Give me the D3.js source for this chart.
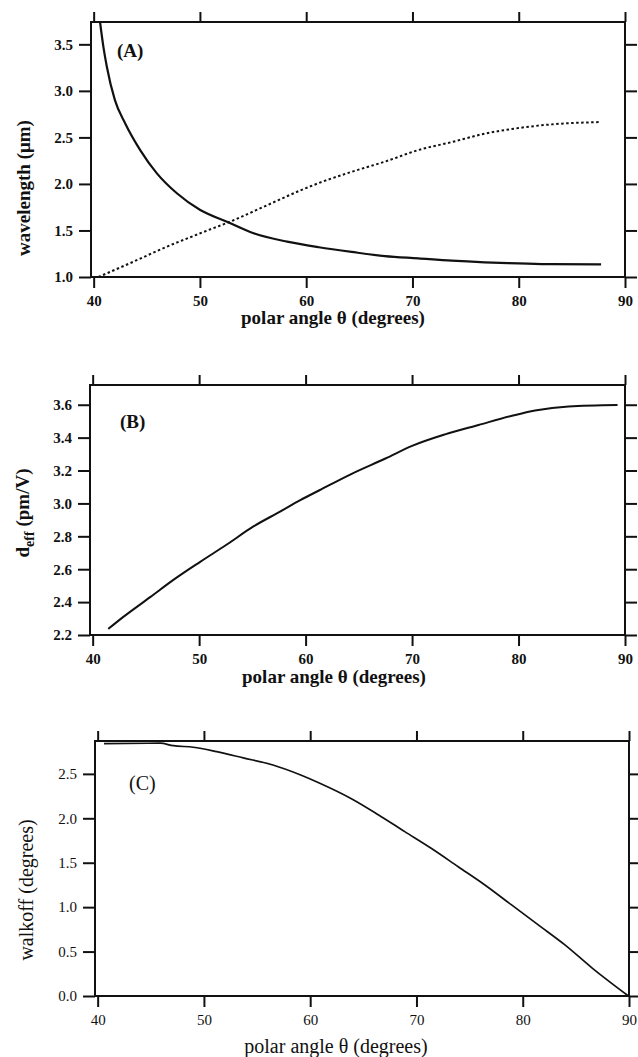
<!DOCTYPE html>
<html lang="en">
<head>
<meta charset="utf-8">
<script src="https://d3js.org/d3.v7.min.js"></script>
<style>
  body { margin: 0; background: #fff; }
  svg { display: block; }
  text { font-family: "Liberation Serif", "Times New Roman", serif; fill: #111; }
</style>
</head>
<body>
<svg width="638" height="1057"></svg>
<script>
// panel A: wavelengths vs polar angle
var angleA1 = [40.6, 40.92, 41.24, 42.0, 42.97, 44.38, 45.95, 47.83, 50.03, 52.54, 55.05, 58.2, 61.2, 64.27, 67.4, 70.55, 73.7, 76.8, 79.97, 83.1, 87.75];
var waveA1  = [3.74, 3.47, 3.26, 2.90, 2.65, 2.364, 2.114, 1.90, 1.72, 1.594, 1.47, 1.38, 1.32, 1.27, 1.225, 1.20, 1.175, 1.158, 1.147, 1.138, 1.136];
var angleA2 = [40.45, 43.75, 46.9, 50.03, 53.16, 56.3, 59.44, 61.2, 64.27, 67.42, 70.55, 73.7, 76.8, 79.97, 83.1, 87.75];
var waveA2  = [1.0, 1.165, 1.326, 1.47, 1.61, 1.77, 1.93, 2.01, 2.13, 2.24, 2.364, 2.45, 2.54, 2.60, 2.64, 2.665];
// panel B: d_eff
var angleB = [41.47, 42.88, 45.4, 47.58, 50.1, 52.6, 55.1, 57.6, 59.5, 61.3, 64.33, 67.5, 70.0, 73.1, 76.25, 79.4, 81.55, 84.7, 89.3];
var deffB  = [2.237, 2.31, 2.43, 2.535, 2.645, 2.75, 2.86, 2.95, 3.02, 3.08, 3.18, 3.273, 3.35, 3.42, 3.477, 3.533, 3.565, 3.59, 3.598];
// panel C: walkoff
var angleC = [40.6, 45.88, 47.12, 49.0, 51.2, 53.7, 56.5, 59.05, 60.8, 63.88, 66.4, 68.9, 71.42, 73.93, 76.44, 78.95, 81.46, 83.97, 86.48, 89.95];
var walkC  = [2.84, 2.845, 2.817, 2.80, 2.75, 2.68, 2.60, 2.49, 2.40, 2.22, 2.04, 1.85, 1.66, 1.455, 1.25, 1.025, 0.80, 0.575, 0.32, 0.0];

var xTicks  = [40, 50, 60, 70, 80, 90];
var yTicksA = [1.0, 1.5, 2.0, 2.5, 3.0, 3.5];
var yTicksB = [2.2, 2.4, 2.6, 2.8, 3.0, 3.2, 3.4, 3.6];
var yTicksC = [0.0, 0.5, 1.0, 1.5, 2.0, 2.5];

var svg = d3.select("svg");
var serif = '"Liberation Serif", "Times New Roman", serif';

function panel(p) {
  var g = svg.append("g").attr("transform", "translate(" + p.left + "," + p.top + ")");
  var x = d3.scaleLinear().domain([39.75, 90]).range([0, p.w]);
  var y = d3.scaleLinear().domain(p.yDomain).range([p.h, 0]);
  var fmt = d3.format(".1f");
  var big = p.weight == "bold" ? 19 : 20;

  var axes = [
    g.append("g").attr("transform", "translate(0," + p.h + ")")
      .call(d3.axisBottom(x).tickValues(xTicks).tickSize(11).tickPadding(7).tickSizeOuter(0)),
    g.append("g")
      .call(d3.axisTop(x).tickValues(xTicks).tickSize(10).tickFormat("").tickSizeOuter(0)),
    g.append("g")
      .call(d3.axisLeft(y).tickValues(p.yTicks).tickSize(12).tickPadding(6).tickFormat(fmt).tickSizeOuter(0)),
    g.append("g").attr("transform", "translate(" + p.w + ",0)")
      .call(d3.axisRight(y).tickValues(p.yTicks).tickSize(12).tickFormat("").tickSizeOuter(0))
  ];
  axes.forEach(function (a) {
    a.attr("font-family", serif);
    a.select(".domain").remove();
    a.selectAll("line").attr("stroke", "#111").attr("stroke-width", 2);
    a.selectAll("text").attr("font-size", 15).attr("font-weight", p.weight).attr("fill", "#111");
  });

  g.append("rect").attr("x", x(39.75)).attr("y", y(p.yDomain[1]))
    .attr("width", x(90) - x(39.75)).attr("height", y(p.yDomain[0]) - y(p.yDomain[1]))
    .attr("fill", "none").attr("stroke", "#111").attr("stroke-width", 2);

  var line = d3.line().x(function (d) { return x(d[0]); }).y(function (d) { return y(d[1]); })
    .curve(d3.curveMonotoneX);
  p.series.forEach(function (s) {
    g.append("path").datum(d3.zip(s.xs, s.ys)).attr("d", line)
      .attr("fill", "none").attr("stroke", "#111").attr("stroke-width", s.width)
      .attr("stroke-dasharray", s.dash || null);
  });

  // panel tag, x title and y title in page coordinates
  svg.append("text").attr("x", p.tagX).attr("y", p.tagY).attr("font-size", big)
    .attr("font-weight", p.weight).text(p.tag);

  svg.append("text").attr("x", p.titleX).attr("y", p.titleY).attr("text-anchor", "middle")
    .attr("font-size", big).attr("font-weight", p.weight)
    .text("polar angle \u03b8 (degrees)");

  var yl = svg.append("text").attr("transform", "translate(" + p.ylX + "," + p.ylY + ") rotate(-90)")
    .attr("text-anchor", "middle").attr("font-size", big).attr("font-weight", p.weight);
  p.ylabel(yl);
  return g;
}

panel({
  left: 91, top: 22, w: 534, h: 255, yDomain: [1.0, 3.74], yTicks: yTicksA, weight: "bold",
  series: [{ xs: angleA1, ys: waveA1, width: 2.2 }, { xs: angleA2, ys: waveA2, width: 2, dash: "2.5,2.5" }],
  tag: "(A)", tagX: 117, tagY: 57, titleX: 333, titleY: 324,
  ylX: 30, ylY: 188, ylabel: function (t) { t.text("wavelength (\u03bcm)"); }
});

panel({
  left: 90, top: 385, w: 535, h: 250, yDomain: [2.2, 3.72], yTicks: yTicksB, weight: "bold",
  series: [{ xs: angleB, ys: deffB, width: 2 }],
  tag: "(B)", tagX: 120, tagY: 428, titleX: 334, titleY: 683,
  ylX: 29, ylY: 513, ylabel: function (t) {
    t.append("tspan").text("d");
    t.append("tspan").attr("dy", 5).attr("font-size", 14).text("eff");
    t.append("tspan").attr("dy", -5).text(" (pm/V)");
  }
});

panel({
  left: 95, top: 741, w: 534, h: 255, yDomain: [0, 2.87], yTicks: yTicksC, weight: "normal",
  series: [{ xs: angleC, ys: walkC, width: 1.7 }],
  tag: "(C)", tagX: 129, tagY: 790, titleX: 336, titleY: 1053,
  ylX: 33, ylY: 890, ylabel: function (t) { t.text("walkoff (degrees)"); }
});
</script>
</body>
</html>
